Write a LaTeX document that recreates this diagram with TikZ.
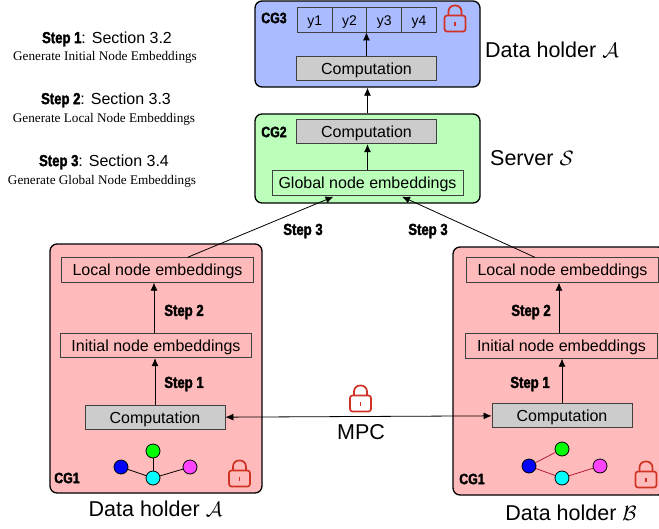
\documentclass[tikz,border=0pt]{standalone}
\usepackage{amsmath}
\usepackage{fontspec}
\setmainfont{Liberation Sans}
\newfontfamily\serifcap{Liberation Serif}
\newfontfamily\stepfont[FakeStretch=0.82,FakeBold=2]{Liberation Sans Bold}
\usetikzlibrary{arrows.meta}
\definecolor{lockred}{HTML}{D03324}
\definecolor{edgered}{HTML}{B81A3A}
\definecolor{holderblue}{HTML}{AABBFF}
\definecolor{holdergreen}{HTML}{BBFFBB}
\definecolor{holderpink}{HTML}{FFBBBB}
\definecolor{nodegreen}{HTML}{00FF00}
\definecolor{nodepink}{HTML}{FF44FF}
\definecolor{nodecyan}{HTML}{00FFFF}
\tikzset{
  holder/.style={draw=black,line width=1.3pt,rounded corners=7pt,minimum width=#1},
  inbox/.style={draw=black!75,line width=0.8pt,minimum height=24.5pt,inner sep=0pt,text height=12pt,text depth=1pt,font=\fontsize{16}{18}\selectfont},
  compbox/.style={inbox,fill=black!20,minimum width=140pt},
  embbox/.style={inbox,minimum width=191.5pt},
  cell/.style={inbox,minimum width=34.75pt,minimum height=25pt,font=\fontsize{14}{16}\selectfont},
  steplabel/.style={font=\fontsize{16}{18}\stepfont},
  cglabel/.style={font=\fontsize{15}{17}\stepfont},
  bigtext/.style={font=\fontsize{21.5}{25}\selectfont},
  sectext/.style={font=\fontsize{16}{18}\selectfont},
  gentext/.style={font=\fontsize{13.2}{15}\serifcap},
  gnode/.style={circle,draw=black,line width=0.8pt,minimum size=14pt,inner sep=0pt,fill=#1},
  pics/padlock/.style={code={
    \draw[lockred,line width=1.7pt,rounded corners=2.5pt] (-10.5,0) rectangle (10.5,16);
    \draw[lockred,line width=1.7pt,rounded corners=6pt] (-6.5,0) -- (-6.5,-10) -- (6.5,-10) -- (6.5,0);
    \draw[lockred,line width=1.5pt] (0,6) -- (0,10.5);
  }}
}

\begin{document}
\begin{tikzpicture}[x=1pt,y=-1pt,>={Latex[length=8pt,width=7pt]}]
  \useasboundingbox (0,0) rectangle (659,528);
  \draw
    (367.5,44) node[holder=225pt,minimum height=86pt,fill=holderblue] (cgT){}
    (367.5,158.5) node[holder=225pt,minimum height=89pt,fill=holdergreen] (cgS){}
    (156,368.5) node[holder=212pt,minimum height=249pt,fill=holderpink] (cgA){}
    (559,371) node[holder=212pt,minimum height=248pt,fill=holderpink] (cgB){};
  \draw
    (314.75,19.5) node[cell] (y1){y1}
    (349.5,19.5) node[cell] (y2){y2}
    (384.25,19.5) node[cell] (y3){y3}
    (419,19.5) node[cell] (y4){y4}
    (366.5,68.5) node[compbox] (compT){Computation}
    (366.5,131.5) node[compbox] (compS){Computation}
    (367.5,183) node[inbox,minimum width=191pt] (globalS){Global node embeddings}
    (157.5,270) node[embbox] (localA){Local node embeddings}
    (156,345.5) node[embbox] (initA){Initial node embeddings}
    (155,417.5) node[compbox] (compA){Computation}
    (562.5,270) node[embbox] (localB){Local node embeddings}
    (561.5,346) node[embbox] (initB){Initial node embeddings}
    (562,415.5) node[compbox] (compB){Computation};
  \draw
    (153,451) node[gnode=nodegreen] (gA){}
    (121,467) node[gnode=blue] (bA){}
    (190,467) node[gnode=nodepink] (mA){}
    (153,478) node[gnode=nodecyan] (cA){}
    (562,449) node[gnode=nodegreen] (gB){}
    (529,466) node[gnode=blue] (bB){}
    (600,466) node[gnode=nodepink] (mB){}
    (562,478) node[gnode=nodecyan] (cB){};
  \begin{scope}[line width=0.8pt]
    \draw (gA) -- (cA);
    \draw (bA) -- (cA);
    \draw (mA) -- (cA);
  \end{scope}
  \begin{scope}[line width=0.8pt,edgered]
    \draw (bB) -- (gB);
    \draw (bB) -- (cB);
    \draw (mB) -- (cB);
  \end{scope}
  \begin{scope}[->,line width=0.8pt]
    \draw (compT.north) -- (compT.north |- y2.south);
    \draw (cgS.north) -- (cgT.south);
    \draw (globalS.north) -- (globalS.north |- compS.south);
    \draw ([xshift=30pt]localA.north) -- ([xshift=-34pt,yshift=-1pt]globalS.south);
    \draw ([xshift=-27.5pt]localB.north) -- ([xshift=34.5pt,yshift=-1pt]globalS.south);
    \draw ([xshift=-2pt]initA.north) -- ([xshift=-2pt]initA.north |- localA.south);
    \draw (compA.north) -- (compA.north |- initA.south);
    \draw ([xshift=-2.5pt]initB.north) -- ([xshift=-2.5pt]initB.north |- localB.south);
    \draw (compB.north) -- (compB.north |- initB.south);
    \draw[<->] (compA) -- (compB);
  \end{scope}
  \draw
    (274,18) node[cglabel] (lblT){CG3}
    (274,132) node[cglabel] (lblS){CG2}
    (67,478) node[cglabel] (lblA){CG1}
    (472,479) node[cglabel] (lblB){CG1}
    (184,312) node[steplabel] (stepAb){Step 2}
    (184,384) node[steplabel] (stepAa){Step 1}
    (531,312) node[steplabel] (stepBb){Step 2}
    (530,384) node[steplabel] (stepBa){Step 1}
    (303,231) node[steplabel] (stepSa){Step 3}
    (428,231) node[steplabel] (stepSb){Step 3}
    (361,432) node[bigtext] (mpc){MPC}
    (485,50) node[bigtext,anchor=west,inner sep=0pt] (holderT){Data holder $\mathcal{A}$}
    (490,158) node[bigtext,anchor=west,inner sep=0pt] (server){Server $\mathcal{S}$}
    (155.5,509) node[bigtext] (holderA){Data holder $\mathcal{A}$}
    (571,513) node[bigtext] (holderB){Data holder $\mathcal{B}$};
  \draw
    (107,39) node[sectext] (secA){{\stepfont Step 1}: Section 3.2}
    (105,57) node[gentext] (genA){Generate Initial Node Embeddings}
    (106,100) node[sectext] (secB){{\stepfont Step 2}: Section 3.3}
    (104,119) node[gentext] (genB){Generate Local Node Embeddings}
    (104,162) node[sectext] (secC){{\stepfont Step 3}: Section 3.4}
    (102,181) node[gentext] (genC){Generate Global Node Embeddings};
  \pic at (455,15.5) {padlock};
  \pic at (239.5,470.5) {padlock};
  \pic at (646,471.5) {padlock};
  \pic at (360.5,395.5) {padlock};
\end{tikzpicture}
\end{document}
